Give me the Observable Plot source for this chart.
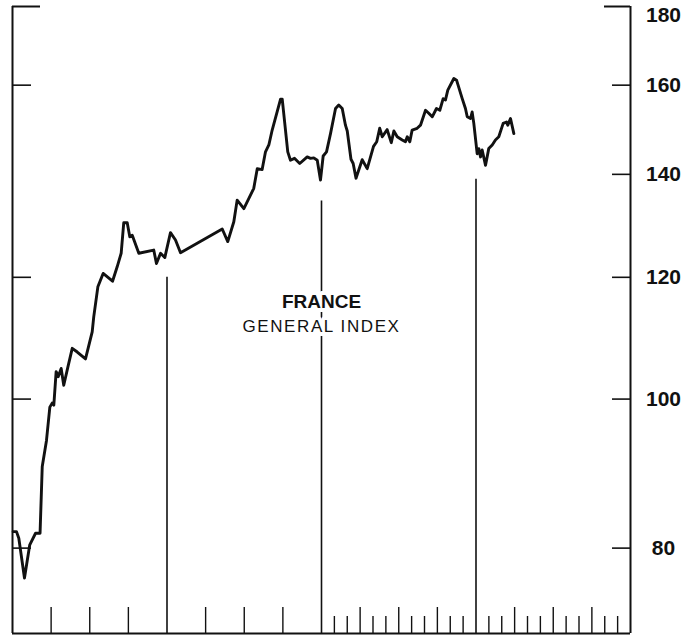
<!DOCTYPE html>
<html><head><meta charset="utf-8">
<script src="https://cdn.jsdelivr.net/npm/d3@7"></script>
<script src="https://cdn.jsdelivr.net/npm/@observablehq/plot@0.6"></script>
<style>body{margin:0;background:#fff}</style>
</head><body><div id="chart"></div>
<script>
// months elapsed since start of the 4-year span
const months = [0.05,0.31,0.49,0.93,1.34,1.79,2.14,2.31,2.64,2.90,3.08,3.21,3.39,3.55,3.78,3.98,4.30,4.64,5.03,5.67,6.19,6.31,6.63,7.04,7.77,8.13,8.44,8.64,8.91,9.11,9.30,9.81,10.97,11.18,11.50,11.83,12.27,12.66,13.05,16.29,16.72,17.19,17.45,17.97,18.74,19.01,19.39,19.65,19.91,20.17,20.82,20.95,21.38,21.59,21.90,22.31,22.89,23.15,23.40,23.67,23.92,24.13,24.39,24.70,25.09,25.34,25.61,25.86,26.00,26.29,26.46,26.68,27.16,27.55,28.04,28.29,28.52,28.72,29.10,29.42,29.62,29.88,30.27,30.52,30.66,30.86,31.04,31.43,31.69,32.08,32.33,32.60,32.93,33.19,33.45,33.63,33.81,34.28,34.49,34.93,35.18,35.32,35.57,35.70,35.83,36.09,36.22,36.35,36.48,36.74,36.99,37.26,37.51,37.77,38.11,38.37,38.47,38.68,38.94];
const values = [82.0,82.0,81.2,76.5,80.4,81.8,81.8,90.4,94.0,98.8,99.4,99.1,104.2,103.4,104.7,102.1,104.9,107.9,107.3,106.2,110.6,113.1,118.3,120.7,119.3,121.9,124.4,130.2,130.2,127.5,127.8,124.4,125.0,122.5,124.4,123.6,128.3,126.9,124.5,129.0,126.6,130.4,134.7,133.0,137.1,141.2,141.0,144.8,146.3,149.6,156.7,156.7,144.8,143.0,143.4,142.3,143.7,143.4,143.5,143.0,138.8,143.9,144.8,148.8,154.5,155.3,154.5,150.7,149.4,143.2,142.3,139.2,143.1,141.2,146.0,147.0,150.0,148.1,149.7,146.8,149.4,148.1,147.4,147.0,148.1,147.0,149.6,150.0,150.7,154.1,153.4,152.6,154.5,154.1,156.8,156.5,158.8,161.6,161.2,156.8,154.5,152.6,152.2,153.7,151.1,144.4,145.5,143.7,145.2,141.9,145.5,146.3,147.4,148.1,151.1,151.4,150.7,152.2,148.8];

const yTickValues = [80, 100, 120, 140, 160];
const yTopValue = 180;
const leftTickValues = [80, 100, 120, 160];
const quarterTicks = [3, 6, 9, 15, 18, 21, 27, 30, 33, 39, 42, 45];
const monthTicks = [25, 26, 28, 29, 31, 32, 34, 35, 37, 38, 40, 41, 43, 44, 46, 47];
const dividers = [12, 24, 36];
const dividerTops = [120, 134.5, 139];
const xDomain = [0, 48];
const yDomain = [70.4, 180];
const titleLines = ["FRANCE", "GENERAL INDEX"];
const titleX = 24;
const titleY = [115.6, 111.4];

const data = months.map((m, i) => ({m, v: values[i]}));
const ink = "#111";

const chart = Plot.plot({
  width: 695, height: 637,
  marginLeft: 12, marginRight: 65, marginTop: 6, marginBottom: 4,
  x: {domain: xDomain, axis: null},
  y: {type: "log", domain: yDomain, axis: null},
  style: {fontFamily: "'Liberation Sans', Arial, sans-serif", background: "#fff", color: ink, overflow: "visible"},
  marks: [
    Plot.ruleX(xDomain, {x: d => d, stroke: ink, strokeWidth: 2}),
    Plot.ruleY([yDomain[0]], {y: d => d, stroke: ink, strokeWidth: 2}),
    Plot.tickY(leftTickValues, {y: d => d, insetRight: 599, stroke: ink, strokeWidth: 1.6}),
    Plot.tickY([yTopValue], {y: d => d, insetRight: 590, stroke: ink, strokeWidth: 2}),
    Plot.tickY(yTickValues, {y: d => d, insetLeft: 600, stroke: ink, strokeWidth: 1.6}),
    Plot.tickY([yTopValue], {y: d => d, insetLeft: 592, stroke: ink, strokeWidth: 2}),
    Plot.tickX(quarterTicks, {x: d => d, insetTop: 601, stroke: ink, strokeWidth: 1.4}),
    Plot.tickX(monthTicks, {x: d => d, insetTop: 610, stroke: ink, strokeWidth: 1.4}),
    Plot.ruleX(dividers, {x: d => d, y1: (d, i) => dividerTops[i], y2: yDomain[0], stroke: ink, strokeWidth: 1.6}),
    Plot.line(data, {x: "m", y: "v", stroke: ink, strokeWidth: 2.9, strokeLinejoin: "round", strokeLinecap: "round"}),
    Plot.text(yTickValues, {x: () => xDomain[1], y: d => d, dx: 33, text: d => String(d), fontWeight: "bold", fontSize: 21, fill: ink}),
    Plot.text([yTopValue], {x: () => xDomain[1], y: d => d, dx: 33, dy: 9, text: d => String(d), fontWeight: "bold", fontSize: 21, fill: ink}),
    Plot.text([titleLines[0]], {x: () => titleX, y: () => titleY[0], text: d => d, fontWeight: "bold", fontSize: 19, fill: ink, stroke: "white", strokeWidth: 8}),
    Plot.text([titleLines[1]], {x: () => titleX, y: () => titleY[1], text: d => d, fontSize: 17, fill: ink, stroke: "white", strokeWidth: 8})
  ]
});
d3.select(chart).selectAll("text")
  .filter(function() { return this.textContent === titleLines[1]; })
  .attr("letter-spacing", "1.6px");
document.getElementById("chart").appendChild(chart);
</script>
</body></html>
